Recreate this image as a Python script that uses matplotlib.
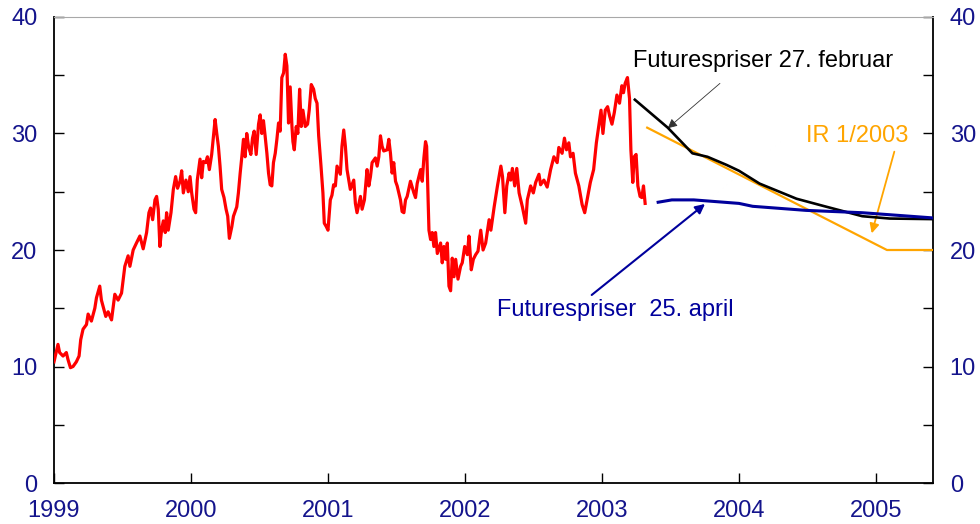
import numpy as np
import matplotlib
matplotlib.use("Agg")
import matplotlib.pyplot as plt

plt.rcParams['font.family'] = ['Liberation Sans', 'DejaVu Sans']

# oil price (USD per barrel), daily-ish trace
oil_t = [1999.000, 1999.029, 1999.041, 1999.066, 1999.090, 1999.102, 1999.120, 1999.139,
         1999.163, 1999.183, 1999.195, 1999.212, 1999.237, 1999.249, 1999.273, 1999.298,
         1999.310, 1999.334, 1999.346, 1999.378, 1999.395, 1999.420, 1999.444, 1999.468,
         1999.493, 1999.517, 1999.541, 1999.554, 1999.578, 1999.602, 1999.627, 1999.651,
         1999.676, 1999.693, 1999.705, 1999.720, 1999.737, 1999.749, 1999.761, 1999.773,
         1999.785, 1999.798, 1999.812, 1999.822, 1999.834, 1999.854, 1999.871, 1999.888,
         1999.902, 1999.920, 1999.932, 1999.944, 1999.963, 1999.980, 1999.993, 2000.005,
         2000.022, 2000.034, 2000.046, 2000.066, 2000.078, 2000.090, 2000.107, 2000.120,
         2000.134, 2000.151, 2000.176, 2000.188, 2000.200, 2000.212, 2000.224, 2000.241,
         2000.256, 2000.268, 2000.280, 2000.298, 2000.310, 2000.334, 2000.346, 2000.359,
         2000.371, 2000.383, 2000.395, 2000.407, 2000.420, 2000.437, 2000.449, 2000.461,
         2000.476, 2000.493, 2000.505, 2000.517, 2000.529, 2000.541, 2000.554, 2000.566,
         2000.578, 2000.590, 2000.602, 2000.615, 2000.627, 2000.639, 2000.651, 2000.663,
         2000.676, 2000.688, 2000.700, 2000.712, 2000.724, 2000.737, 2000.744, 2000.754,
         2000.768, 2000.780, 2000.793, 2000.805, 2000.817, 2000.834, 2000.851, 2000.863,
         2000.878, 2000.895, 2000.907, 2000.920, 2000.932, 2000.949, 2000.963, 2000.973,
         2000.988, 2001.000, 2001.017, 2001.029, 2001.041, 2001.054, 2001.066, 2001.090,
         2001.102, 2001.115, 2001.127, 2001.139, 2001.163, 2001.188, 2001.200, 2001.212,
         2001.237, 2001.249, 2001.266, 2001.285, 2001.298, 2001.310, 2001.322, 2001.346,
         2001.359, 2001.371, 2001.383, 2001.395, 2001.407, 2001.432, 2001.444, 2001.456,
         2001.468, 2001.480, 2001.493, 2001.505, 2001.529, 2001.541, 2001.554, 2001.566,
         2001.578, 2001.602, 2001.627, 2001.639, 2001.651, 2001.676, 2001.688, 2001.700,
         2001.712, 2001.720, 2001.737, 2001.749, 2001.761, 2001.773, 2001.785, 2001.798,
         2001.822, 2001.834, 2001.846, 2001.859, 2001.871, 2001.883, 2001.895, 2001.907,
         2001.920, 2001.932, 2001.949, 2001.968, 2001.980, 2001.998, 2002.017, 2002.029,
         2002.046, 2002.061, 2002.078, 2002.095, 2002.115, 2002.132, 2002.151, 2002.176,
         2002.189, 2002.213, 2002.237, 2002.262, 2002.274, 2002.291, 2002.305, 2002.322,
         2002.334, 2002.346, 2002.363, 2002.378, 2002.395, 2002.419, 2002.443, 2002.455,
         2002.479, 2002.499, 2002.516, 2002.540, 2002.552, 2002.576, 2002.600, 2002.625,
         2002.649, 2002.673, 2002.685, 2002.709, 2002.726, 2002.741, 2002.758, 2002.770,
         2002.789, 2002.806, 2002.831, 2002.855, 2002.874, 2002.891, 2002.915, 2002.939,
         2002.959, 2002.976, 2002.993, 2003.007, 2003.024, 2003.041, 2003.056, 2003.073,
         2003.090, 2003.109, 2003.128, 2003.145, 2003.157, 2003.169, 2003.186, 2003.201,
         2003.211, 2003.225, 2003.235, 2003.249, 2003.262, 2003.278, 2003.291, 2003.303,
         2003.315]
oil_v = [10.4, 11.9, 11.2, 10.9, 11.2, 10.6, 9.9, 10.0,
         10.4, 10.9, 12.3, 13.2, 13.6, 14.5, 13.9, 15.0,
         15.9, 16.9, 15.7, 14.3, 14.7, 14.0, 16.2, 15.7,
         16.3, 18.6, 19.5, 18.6, 20.0, 20.6, 21.2, 20.1,
         21.5, 23.2, 23.6, 22.6, 24.3, 24.6, 23.5, 20.3,
         21.7, 22.5, 21.5, 23.2, 21.7, 23.2, 25.2, 26.3,
         25.3, 25.9, 26.8, 24.9, 26.0, 25.0, 26.3, 24.9,
         23.5, 23.2, 26.0, 27.8, 26.2, 27.6, 27.5, 28.0,
         26.9, 28.2, 31.2, 30.0, 28.9, 27.2, 25.2, 24.5,
         23.5, 22.9, 21.0, 22.0, 22.9, 23.7, 24.9, 26.6,
         28.0, 29.5, 28.0, 30.0, 28.9, 28.2, 29.6, 30.2,
         28.2, 30.8, 31.6, 30.0, 31.1, 29.8, 28.3, 26.6,
         25.6, 25.5, 27.5, 28.3, 29.5, 30.9, 30.2, 34.8,
         35.2, 36.8, 35.8, 30.9, 34.0, 30.6, 29.3, 28.6,
         30.6, 30.0, 33.8, 30.6, 32.0, 30.6, 30.8, 32.0,
         34.2, 33.8, 33.0, 32.6, 29.8, 27.2, 24.9, 22.3,
         22.0, 21.7, 24.3, 24.7, 25.6, 25.5, 27.2, 26.5,
         28.9, 30.3, 28.9, 26.9, 25.2, 26.0, 24.0, 23.2,
         24.6, 23.5, 24.3, 26.9, 25.5, 26.3, 27.5, 27.9,
         27.2, 28.0, 29.8, 28.9, 28.5, 28.6, 29.5, 28.3,
         26.6, 27.5, 25.9, 25.5, 24.3, 23.3, 23.2, 24.3,
         24.6, 25.9, 24.9, 24.5, 25.7, 26.9, 25.9, 27.9,
         29.3, 28.9, 21.7, 20.9, 21.5, 20.3, 21.5, 19.7,
         20.6, 18.9, 20.3, 19.2, 20.6, 16.9, 16.5, 19.3,
         17.7, 19.2, 17.5, 18.6, 18.9, 20.3, 19.6, 21.2,
         18.3, 19.2, 19.6, 19.9, 21.7, 20.0, 20.6, 22.6,
         21.7, 23.7, 25.5, 27.2, 26.3, 23.2, 25.5, 26.6,
         26.0, 27.0, 25.5, 27.0, 24.9, 23.7, 22.3, 24.3,
         25.5, 24.9, 25.8, 26.5, 25.6, 26.0, 25.4, 26.9,
         28.0, 27.5, 28.8, 28.3, 29.6, 28.6, 29.2, 28.0,
         28.3, 26.6, 25.5, 23.9, 23.2, 24.3, 25.8, 26.9,
         29.2, 30.6, 32.0, 30.0, 32.0, 32.3, 31.5, 30.8,
         31.8, 33.3, 32.6, 34.1, 33.5, 34.3, 34.8, 33.0,
         28.6, 25.8, 28.0, 28.2, 25.5, 24.6, 24.5, 25.5,
         24.0]

# futures prices 27 February
feb_t = [2003.24, 2003.48, 2003.66, 2003.77, 2003.91, 2004.00, 2004.15, 2004.42,
         2004.61, 2004.90, 2005.10, 2005.42]
feb_v = [32.9, 30.5, 28.3, 28.0, 27.3, 26.8, 25.7, 24.4, 23.8, 22.9, 22.7, 22.65]

# futures prices 25 April
apr_t = [2003.41, 2003.51, 2003.67, 2004.00, 2004.10, 2004.49, 2004.90, 2005.42]
apr_v = [24.1, 24.3, 24.3, 24.0, 23.75, 23.4, 23.2, 22.75]

# Inflation Report 1/2003 assumption
ir_t = [2003.33, 2003.58, 2003.83, 2004.08, 2004.33, 2004.58, 2004.83, 2005.08, 2005.42]
ir_v = [30.5, 29.0, 27.5, 26.0, 24.5, 23.0, 21.5, 20.0, 20.0]

years = [1999, 2000, 2001, 2002, 2003, 2004, 2005]
y_major = [0, 10, 20, 30, 40]
y_minor = [5, 15, 25, 35]

navy = '#14148c'
fig = plt.figure(figsize=(9.8, 5.24), dpi=100)
ax = fig.add_axes([0.0551, 0.0782, 0.8969, 0.8894])

ax.plot(oil_t, oil_v, color='#ff0000', lw=2.3, zorder=3)
ax.plot(ir_t, ir_v, color='#ffa500', lw=1.6, zorder=3)
ax.plot(feb_t, feb_v, color='black', lw=1.9, zorder=4)
ax.plot(apr_t, apr_v, color='#00009c', lw=2.2, zorder=5)

ax.set_xlim(1999, 2005.416)
ax.set_ylim(0, 40)
ax.set_xticks(years)
ax.set_xticklabels([str(y) for y in years])
ax.set_yticks(y_major)
ax.set_yticks(y_minor, minor=True)

ax.tick_params(axis='both', which='both', direction='in', length=7, width=1,
               colors='black', labelcolor=navy, labelsize=17)
ax.tick_params(axis='y', which='both', pad=12, right=True, labelright=True)
ax.tick_params(axis='x', pad=12)

for s in ['left', 'right', 'bottom']:
    ax.spines[s].set_linewidth(1.3)
    ax.spines[s].set_color('black')
ax.spines['top'].set_linewidth(0.8)
ax.spines['top'].set_color('#a8a8a8')

ax.text(2003.226, 35.7, 'Futurespriser 27. februar', fontsize=17, color='black',
        va='baseline', ha='left')
ax.annotate('', xy=(2003.48, 30.45), xytext=(2003.861, 34.3),
            arrowprops=dict(arrowstyle='-|>', color='#333333', lw=0.6,
                            mutation_scale=14, shrinkA=0, shrinkB=0))

ax.text(2004.489, 29.3, 'IR 1/2003', fontsize=17, color='#ffa500', va='baseline')
ax.annotate('', xy=(2004.969, 21.43), xytext=(2005.134, 28.44),
            arrowprops=dict(arrowstyle='-|>', color='#ffa500', lw=1.3,
                            mutation_scale=14, shrinkA=0, shrinkB=0))

ax.text(2002.234, 14.33, 'Futurespriser  25. april', fontsize=17, color='#00009c',
        va='baseline')
ax.annotate('', xy=(2003.752, 23.95), xytext=(2002.925, 16.14),
            arrowprops=dict(arrowstyle='-|>', color='#00009c', lw=1.5,
                            mutation_scale=14, shrinkA=0, shrinkB=0))

fig.savefig('out.png', dpi=100)
